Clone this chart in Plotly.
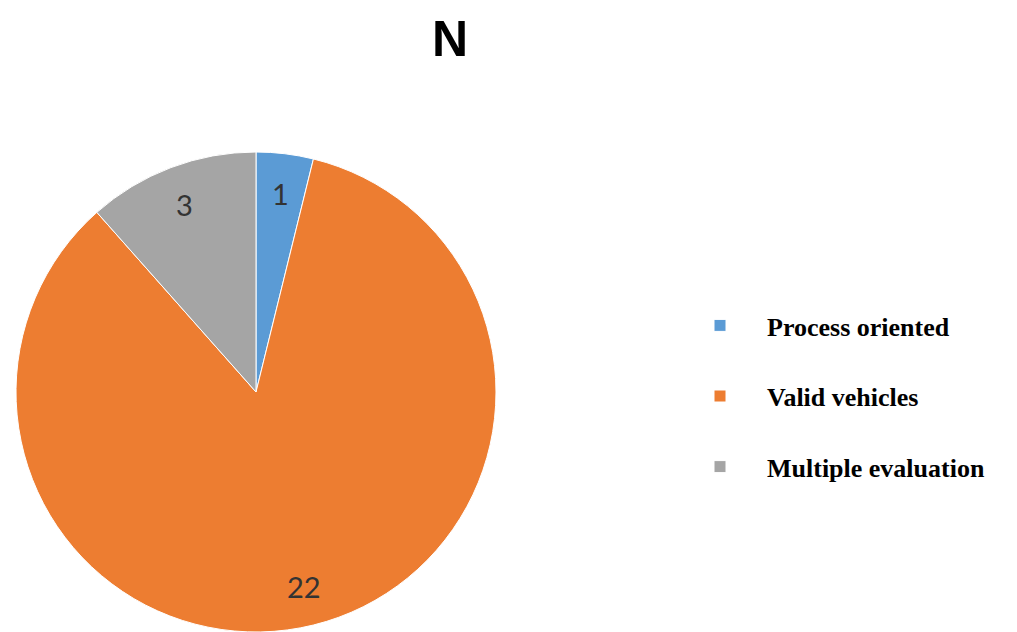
import math
import plotly.graph_objects as go

categories = ["Process oriented", "Valid vehicles", "Multiple evaluation"]
values = [1, 22, 3]
colors = ["#5B9BD5", "#ED7D31", "#A5A5A5"]
title_text = "N"

# figure is offset by the 8px page margin, so size it to fit the window
W, H = 1009, 624
cx, cy, r = 248, 384, 240   # pie centre / radius in figure pixels
label_frac = 0.835          # labels sit near the outer edge, like "best fit"

fig = go.Figure(go.Pie(
    labels=[c + "<br>&nbsp;" for c in categories],
    values=values,
    sort=False,
    direction="clockwise",
    rotation=0,
    marker=dict(colors=colors, line=dict(color="white", width=1)),
    textinfo="none",
    domain=dict(x=[(cx - r) / W, (cx + r) / W], y=[0, 2 * r / H]),
    hoverinfo="label+value",
))

# data labels at each slice's mid-angle
total = sum(values)
cum = 0
for v in values:
    mid = (cum + v / 2) / total * 2 * math.pi
    cum += v
    px = cx + label_frac * r * math.sin(mid)
    py = cy - label_frac * r * math.cos(mid)
    fig.add_annotation(x=px / W, y=1 - py / H, xref="paper", yref="paper",
                       xanchor="center", yanchor="middle",
                       text=str(v), showarrow=False,
                       font=dict(family="Lato", size=29, color="#333333"))

fig.update_layout(
    width=W, height=H,
    margin=dict(l=0, r=0, t=0, b=0),
    paper_bgcolor="white", plot_bgcolor="white",
    title=dict(text="<b>" + title_text + "</b>", x=442 / W, xanchor="center",
               y=1 - 30 / H, yanchor="middle", yref="container",
               font=dict(family="Liberation Sans", size=50, color="black")),
    legend=dict(x=665 / W, xanchor="left", y=1 - 294 / H, yanchor="top",
                valign="top", itemwidth=84,
                font=dict(family="Liberation Serif", size=26, color="black",
                          weight="bold"),
                bgcolor="rgba(0,0,0,0)"),
    showlegend=True,
)

fig.write_html("out.html")
